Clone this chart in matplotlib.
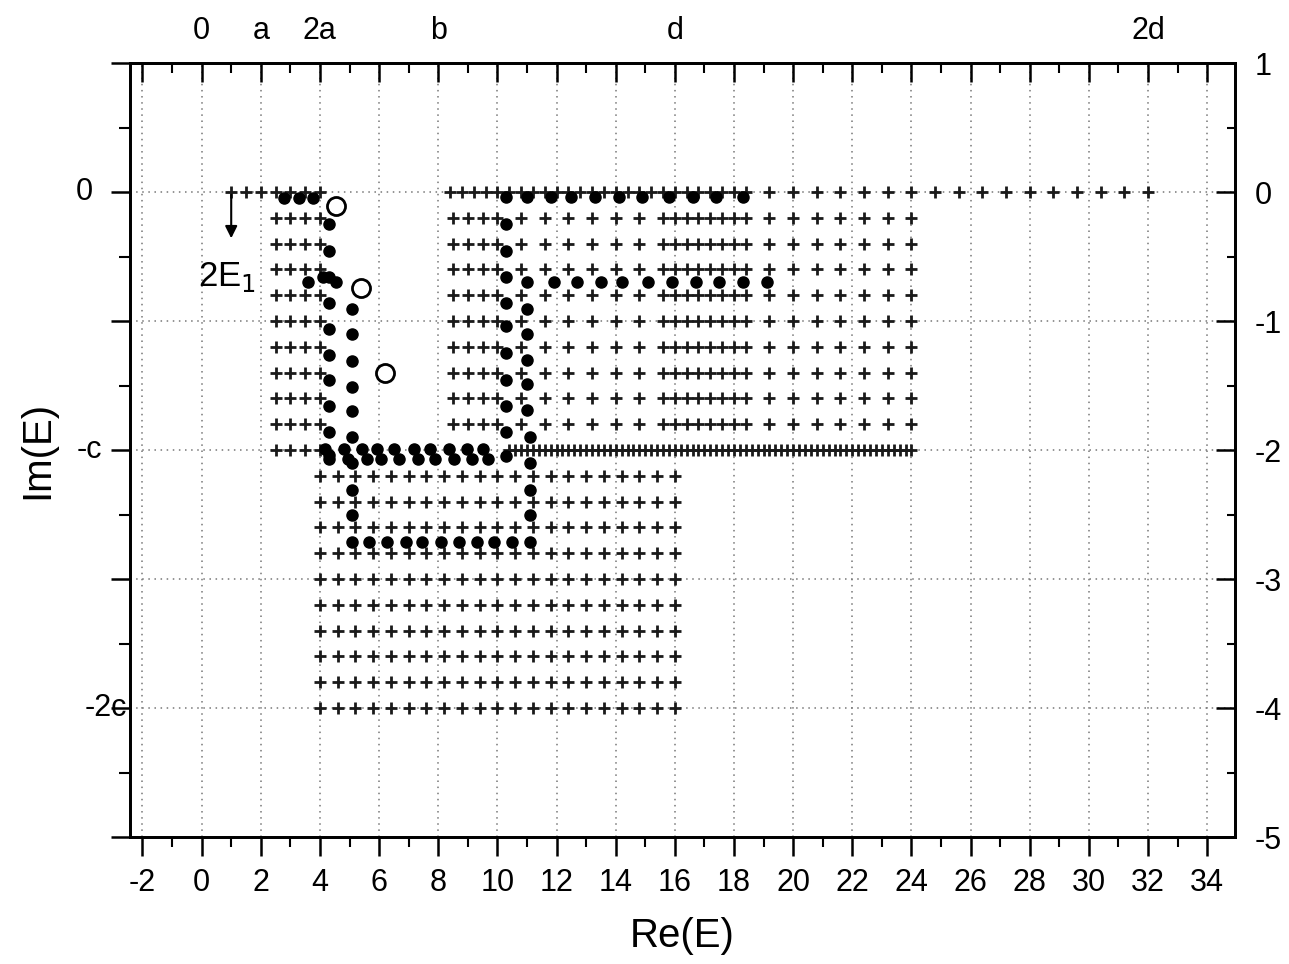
import matplotlib
matplotlib.use("Agg")
import matplotlib.pyplot as plt
import numpy as np
from matplotlib.ticker import MultipleLocator, FixedLocator, NullFormatter

plt.rcParams['font.family'] = ['Liberation Sans', 'DejaVu Sans']
plt.rcParams['axes.unicode_minus'] = False

# ---- lattice of two-particle states (crosses) ----
rows_upper = [0.0, -0.2, -0.4, -0.6, -0.8, -1.0, -1.2, -1.4, -1.6, -1.8, -2.0]
rows_inner = [-0.2, -0.4, -0.6, -0.8, -1.0, -1.2, -1.4, -1.6, -1.8]
rows_lower = [-2.2, -2.4, -2.6, -2.8, -3.0, -3.2, -3.4, -3.6, -3.8, -4.0]

cols_a = [2.5, 3.0, 3.5, 4.0]
cols_b1 = [8.5, 9.0, 9.5, 10.0, 10.8, 11.6, 12.4, 13.2, 14.0, 14.8, 15.6, 16.4, 17.2, 18.0]
cols_b2 = [16.0, 16.8, 17.6, 18.4, 19.2, 20.0, 20.8, 21.6, 22.4, 23.2, 24.0]
cols_c = [4.0, 4.6, 5.2, 5.8, 6.4, 7.0, 7.6, 8.2, 8.8, 9.4, 10.0,
          10.6, 11.2, 11.8, 12.4, 13.0, 13.6, 14.2, 14.8, 15.4, 16.0]

row0_left = [1.0, 1.5, 2.0]
row0_dense = [8.4, 8.8, 9.2, 9.6, 10.0, 10.4, 10.8, 11.2, 11.6, 12.0, 12.4, 12.8,
              13.2, 13.6, 14.0, 14.4, 14.8, 15.2, 15.6, 16.0, 16.4, 16.8, 17.2,
              17.6, 18.0, 18.4]
row0_far = [19.2, 20.0, 20.8, 21.6, 22.4, 23.2, 24.0, 24.8, 25.6, 26.4, 27.2,
            28.0, 28.8, 29.6, 30.4, 31.2, 32.0]
rowc_dense = [10.4, 10.6, 10.8, 11.0, 11.2, 11.4, 11.6, 11.8, 12.0, 12.2, 12.4,
              12.6, 12.8, 13.0, 13.2, 13.4, 13.6, 13.8, 14.0, 14.2, 14.4, 14.6,
              14.8, 15.0, 15.2, 15.4, 15.6, 15.8, 16.0, 16.2, 16.4, 16.6, 16.8,
              17.0, 17.2, 17.4, 17.6, 17.8, 18.0, 18.2, 18.4, 18.6, 18.8, 19.0,
              19.2, 19.4, 19.6, 19.8, 20.0, 20.2, 20.4, 20.6, 20.8, 21.0, 21.2,
              21.4, 21.6, 21.8, 22.0, 22.2, 22.4, 22.6, 22.8, 23.0, 23.2, 23.4,
              23.6, 23.8, 24.0]

# ---- resonance trajectories (filled dots) ----
dots_top_re = [2.8, 3.3, 3.75, 10.3, 11.0, 11.8, 12.5, 13.3, 14.1, 14.9, 15.8, 16.6, 17.4, 18.3]
dots_top_im = [-0.05, -0.05, -0.05, -0.04, -0.04, -0.04, -0.04, -0.04, -0.04, -0.04, -0.04, -0.04, -0.04, -0.04]

trail1_re = [4.3, 4.3, 4.3, 4.3, 4.3, 4.3, 4.3, 4.3, 4.3, 4.3]
trail1_im = [-0.25, -0.46, -0.66, -0.86, -1.06, -1.26, -1.46, -1.66, -1.86, -2.04]

kink_re = [3.6, 4.1, 4.55]
kink_im = [-0.70, -0.66, -0.70]

trail2_re = [5.08, 5.08, 5.08, 5.08, 5.08, 5.08, 5.08, 5.08, 5.08,
             5.08, 5.66, 6.27, 6.9, 7.46, 8.1, 8.7, 9.3, 9.9, 10.5, 11.1,
             11.1, 11.1, 11.1, 11.1, 11.0, 11.0, 11.0, 11.0, 11.0, 11.0]
trail2_im = [-0.91, -1.10, -1.31, -1.51, -1.70, -1.90, -2.10, -2.31, -2.50,
             -2.71, -2.71, -2.71, -2.71, -2.71, -2.71, -2.71, -2.71, -2.71, -2.71, -2.71,
             -2.50, -2.31, -2.10, -1.90, -1.69, -1.49, -1.30, -1.10, -0.91, -0.70]

row07_re = [11.9, 12.7, 13.5, 14.2, 15.1, 15.9, 16.7, 17.5, 18.3, 19.1]
row07_im = [-0.70, -0.70, -0.70, -0.70, -0.70, -0.70, -0.70, -0.70, -0.70, -0.70]

trail3_re = [10.3, 10.3, 10.3, 10.3, 10.3, 10.3, 10.3, 10.3, 10.3, 10.3]
trail3_im = [-0.25, -0.46, -0.66, -0.86, -1.04, -1.25, -1.46, -1.66, -1.86, -2.05]

streak_re = [4.24, 4.88, 5.5, 6.0, 6.6, 7.25, 7.8, 8.44, 9.05, 9.6]
streak_im = [-2.03, -2.03, -2.03, -2.03, -2.03, -2.03, -2.03, -2.03, -2.03, -2.03]

open_re = [4.55, 5.4, 6.2]
open_im = [-0.11, -0.74, -1.40]

top_ticks = [0, 2, 4, 8, 16, 32]
top_labels = ['0', 'a', '2a', 'b', 'd', '2d']
right_ticks = [1, 0, -1, -2, -3, -4, -5]
left_labels = ['0', '-c', '-2c']
left_label_y = [0, -2, -4]
left_label_x = [-3.69, -3.35, -2.54]

fig = plt.figure(figsize=(12.89, 9.64), dpi=100)
ax = fig.add_axes([0.1009, 0.1317, 0.8572, 0.8029])
ax.set_xlim(-2.42, 34.94)
ax.set_ylim(-5, 1)

cross = dict(marker='+', linestyle='none', color='#1a1a1a', ms=9, mew=2.0, zorder=3)


def lattice(xs, ys):
    gx, gy = np.meshgrid(xs, ys)
    ax.plot(gx.ravel(), gy.ravel(), **cross)


lattice(cols_a, rows_upper)
lattice(cols_b1, rows_inner)
lattice(cols_b2, rows_inner)
lattice(cols_c, rows_lower)
ax.plot(row0_left, [0.0] * len(row0_left), **cross)
ax.plot(row0_dense, [0.0] * len(row0_dense), **cross)
ax.plot(row0_far, [0.0] * len(row0_far), **cross)
ax.plot(rowc_dense, [-2.0] * len(rowc_dense), **cross)

dot = dict(marker='o', linestyle='none', color='black', ms=8, zorder=4)
for xs, ys in [(dots_top_re, dots_top_im), (trail1_re, trail1_im), (kink_re, kink_im),
               (trail2_re, trail2_im), (row07_re, row07_im), (trail3_re, trail3_im)]:
    ax.plot(xs, ys, **dot)
# smeared dots along Im(E) = -c
ax.plot(np.array(streak_re) - 0.08, np.array(streak_im) + 0.04, **dot)
ax.plot(np.array(streak_re) + 0.08, np.array(streak_im) - 0.04, **dot)

ax.plot(open_re, open_im, marker='o', linestyle='none', mfc='white', mec='black',
        ms=13, mew=2, zorder=5)

# 2E1 arrow
ax.annotate('', xy=(1.0, -0.38), xytext=(1.0, 0.0),
            arrowprops=dict(arrowstyle='-|>', color='black', lw=1.5, mutation_scale=18))
ax.text(0.85, -0.66, r'2E$_1$', fontsize=25, ha='center', va='center')

# axes styling
ax.xaxis.set_major_locator(MultipleLocator(2))
ax.xaxis.set_minor_locator(MultipleLocator(1))
ax.yaxis.set_major_locator(MultipleLocator(1))
ax.yaxis.set_minor_locator(MultipleLocator(0.5))
ax.yaxis.set_major_formatter(NullFormatter())
ax.grid(True, which='major', linestyle=(0, (1, 3)), color='#777777', lw=1.1)
ax.tick_params(axis='x', which='major', direction='out', length=14, width=1.8,
               labelsize=22, pad=8)
ax.tick_params(axis='x', which='minor', direction='out', length=7, width=1.5)
ax.tick_params(axis='y', which='major', direction='out', length=14, width=1.8)
ax.tick_params(axis='y', which='minor', direction='out', length=8, width=1.5)
for s in ax.spines.values():
    s.set_linewidth(2)

for lab, yv, xv in zip(left_labels, left_label_y, left_label_x):
    ax.text(xv, yv, lab, fontsize=22, ha='right', va='center', clip_on=False)

ax.set_xlabel('Re(E)', fontsize=29, labelpad=14)
ax.set_ylabel('Im(E)', fontsize=29, labelpad=36)

top = ax.twiny()
top.set_xlim(ax.get_xlim())
top.xaxis.set_major_locator(MultipleLocator(2))
top.xaxis.set_minor_locator(MultipleLocator(1))
top.xaxis.set_major_formatter(NullFormatter())
top.tick_params(axis='x', which='major', direction='in', length=14, width=1.8, pad=12)
top.tick_params(axis='x', which='minor', direction='in', length=7, width=1.5)
sec = ax.secondary_xaxis('top')
sec.set_xticks(top_ticks)
sec.set_xticklabels(top_labels, fontsize=22)
sec.tick_params(axis='x', length=0, pad=12)
sec.spines['top'].set_visible(False)

right = ax.twinx()
right.set_ylim(ax.get_ylim())
right.yaxis.set_major_locator(FixedLocator(right_ticks))
right.yaxis.set_minor_locator(MultipleLocator(0.5))
right.set_yticklabels([str(t) for t in right_ticks], fontsize=22)
right.tick_params(axis='y', which='major', direction='in', length=14, width=1.8, pad=14)
right.tick_params(axis='y', which='minor', direction='in', length=6, width=1.5)
for s in right.spines.values():
    s.set_linewidth(2)

fig.savefig('out.png', dpi=100)
